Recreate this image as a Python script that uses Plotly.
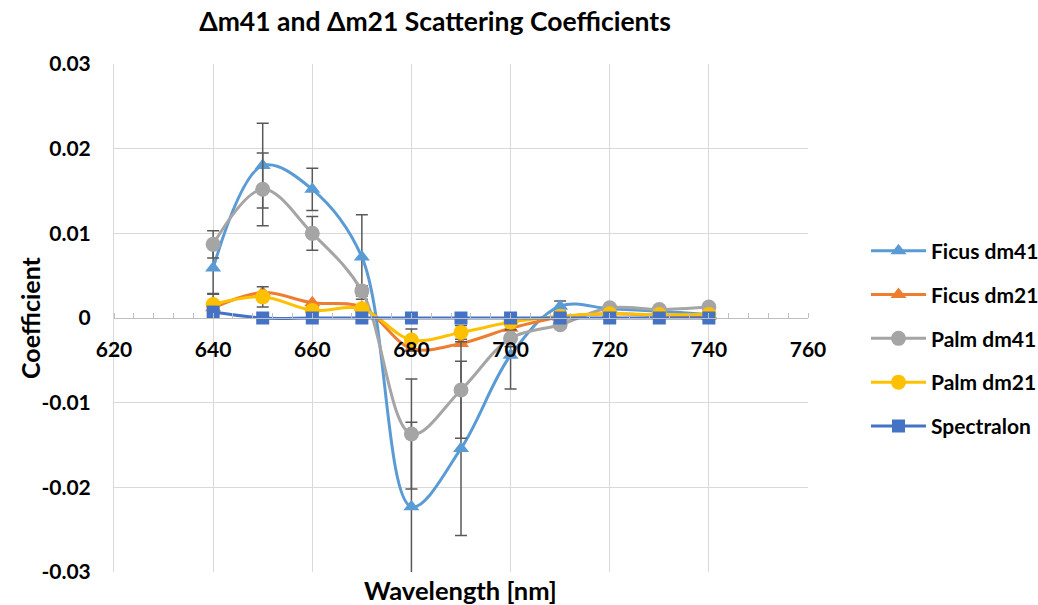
import plotly.graph_objects as go

wavelength = [640, 650, 660, 670, 680, 690, 700, 710, 720, 730, 740]

ficus_dm41 = [0.0059, 0.0180, 0.0152, 0.0072, -0.0223, -0.0154, -0.0044, 0.0014, 0.0011, 0.0008, 0.0004]
ficus_dm41_err = [0.0030, 0.0050, 0.0025, 0.0050, 0.0100, 0.0103, 0.0040, 0.0006, 0.0003, 0.0002, 0.0002]

ficus_dm21 = [0.0012, 0.0030, 0.0018, 0.0013, -0.0036, -0.0030, -0.0012, 0.0001, 0.0005, 0.0003, 0.0002]

palm_dm41 = [0.0087, 0.0152, 0.0100, 0.0032, -0.0137, -0.0085, -0.0024, -0.0008, 0.0012, 0.0010, 0.0013]
palm_dm41_err = [0.0016, 0.0043, 0.0020, 0.0006, 0.0065, 0.0057, 0.0010, 0.0004, 0.0003, 0.0003, 0.0003]

palm_dm21 = [0.0016, 0.0025, 0.0009, 0.0011, -0.0026, -0.0017, -0.0005, 0.0002, 0.0005, 0.0004, 0.0004]
palm_dm21_err = [0.0012, 0.0012, 0.0005, 0.0004, 0.0013, 0.0008, 0.0004, 0.0002, 0.0001, 0.0001, 0.0001]

spectralon = [0.0007, 0.0, 0.0, 0.0, 0.0, 0.0, 0.0, 0.0, 0.0, 0.0, 0.0]

y_ticks = [0.03, 0.02, 0.01, 0, -0.01, -0.02, -0.03]
y_tick_labels = ["0.03", "0.02", "0.01", "0", "-0.01", "-0.02", "-0.03"]
x_ticks = [620, 640, 660, 680, 700, 720, 740, 760]

FONT = "Lato"
ERR_COLOR = "#595959"

series = [
    ("Ficus dm41", ficus_dm41, ficus_dm41_err, "#5B9BD5", "triangle-up", 14),
    ("Ficus dm21", ficus_dm21, None, "#ED7D31", "triangle-up", 14),
    ("Palm dm41", palm_dm41, palm_dm41_err, "#A5A5A5", "circle", 15),
    ("Palm dm21", palm_dm21, palm_dm21_err, "#FFC000", "circle", 15),
    ("Spectralon", spectralon, None, "#4472C4", "square", 13),
]

fig = go.Figure()
for name, vals, err, color, sym, size in series:
    kw = {}
    if err is not None:
        kw["error_y"] = dict(type="data", array=err, visible=True,
                             color=ERR_COLOR, thickness=1.5, width=6)
    fig.add_trace(go.Scatter(
        x=wavelength, y=vals, name=f"<b>{name}</b>", mode="lines+markers",
        line=dict(color=color, width=3, shape="spline", smoothing=1),
        marker=dict(color=color, symbol=sym, size=size, line=dict(width=0)),
        legendgroup=name,
        **kw,
    ))

fig.update_layout(
    width=1038, height=605,
    margin=dict(l=114, r=230, t=64, b=33, autoexpand=False),
    plot_bgcolor="white", paper_bgcolor="white",
    font=dict(family=FONT, color="black", size=21),
    title=dict(text="<b>Δm41 and Δm21 Scattering Coefficients</b>",
               x=435/1038, xanchor="center", y=1-22/605, yanchor="middle",
               font=dict(family=FONT, size=26.5, color="black")),
    showlegend=True,
    legend=dict(x=(866 - 114) / 694, xanchor="left", y=0.672, yanchor="top",
                font=dict(family=FONT, size=21, color="black"),
                tracegroupgap=13.5, itemwidth=55, bgcolor="rgba(0,0,0,0)"),
    xaxis=dict(range=[620, 760], tickvals=x_ticks,
               ticktext=[f"<b>{v}</b>" for v in x_ticks],
               anchor="free", position=0.5,
               showgrid=True, gridcolor="#D9D9D9", gridwidth=1,
               showline=True, linecolor="#BFBFBF", linewidth=1,
               zeroline=False, ticks="", ticklabelstandoff=13,
               minor=dict(dtick=4, ticks="inside", ticklen=5,
                          tickcolor="#BFBFBF", showgrid=False),
               tickfont=dict(size=21)),
    yaxis=dict(range=[-0.03, 0.03], tickvals=y_ticks,
               ticktext=[f"<b>{t}</b>" for t in y_tick_labels],
               showgrid=True, gridcolor="#D9D9D9", gridwidth=1,
               showline=True, linecolor="#D9D9D9", linewidth=1,
               zeroline=False, ticks="", ticklabelstandoff=18,
               tickfont=dict(size=21)),
    annotations=[
        dict(text="<b>Coefficient</b>", xref="paper", yref="paper",
             x=(30 - 114) / 694, y=0.5, textangle=-90, showarrow=False,
             xanchor="center", yanchor="middle",
             font=dict(family=FONT, size=25, color="black")),
        dict(text="<b>Wavelength [nm]</b>", xref="paper", yref="paper",
             x=(460 - 114) / 694, y=-(590 - 572) / 508, showarrow=False,
             xanchor="center", yanchor="middle",
             font=dict(family=FONT, size=25.5, color="black")),
    ],
)

fig.write_html("out.html")
